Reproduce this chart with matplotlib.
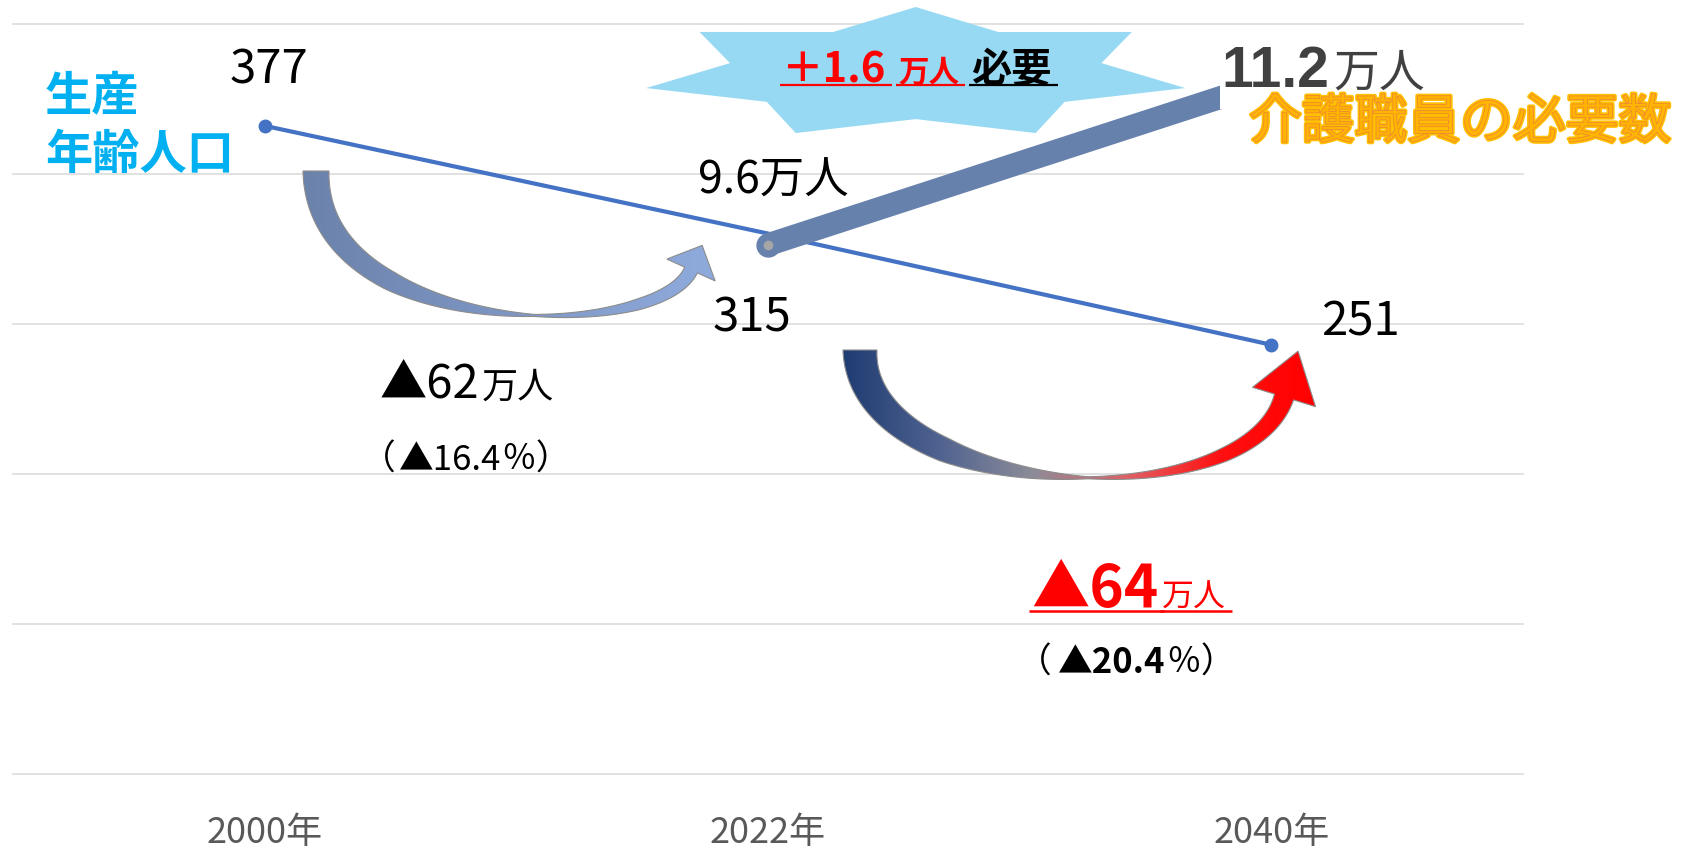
import numpy as np
import matplotlib
matplotlib.use("Agg")
import matplotlib.pyplot as plt
from matplotlib.patches import Polygon, Rectangle
from matplotlib import patheffects as pe
from matplotlib.colors import LinearSegmentedColormap

plt.rcParams['font.family'] = ['Noto Sans CJK JP', 'DejaVu Sans']

# data
years = ["2000年", "2022年", "2040年"]
working_pop = [377, 315, 251]          # 生産年齢人口（万人）
pop_labels = ["377", "315", "251"]
care_need = [np.nan, 9.6, 11.2]        # 介護職員の必要数（万人）

W, H = 1688, 853
fig = plt.figure(figsize=(W / 100, H / 100), dpi=100)
ax = fig.add_axes([13 / W, 78 / H, 1510 / W, 750 / H])
x = np.arange(len(years))

# population line (middle marker sits under the thick band in the original)
ax.plot(x, working_pop, color='#4472C4', lw=3, marker='o', ms=9, markevery=[0, 2], zorder=3)
ax.set_xlim(-0.5, 2.5)
ax.set_ylim(4, 435.6)
ax.set_yticks(np.linspace(4, 435.6, 6))
ax.yaxis.grid(True, color='#D9D9D9', lw=1.1)
for gl in ax.get_ygridlines():
    gl.set_clip_on(False)
ax.set_yticklabels([])
ax.tick_params(axis='y', length=0)
ax.set_xticks(x, years)
ax.tick_params(axis='x', length=0, pad=29, labelsize=26, labelcolor='#595959')
for s in ax.spines.values():
    s.set_visible(False)

offsets = [(2.9, 31.5), (-11.5, -70), (64, 7.7)]
for i, (v, lbl) in enumerate(zip(working_pop, pop_labels)):
    ax.annotate(lbl, (i, v), xytext=offsets[i], textcoords='offset points',
                ha='center', va='baseline', fontsize=34, color='black')

# care workers (thick band on second scale)
ax2 = ax.twinx()
ax2.set_ylim(4.426, 11.757)
ax2.axis('off')
ax2.plot(x, care_need, color='#6781AD', lw=16.5, solid_capstyle='butt', zorder=2)
ax2.plot(x[1], care_need[1], 'o', color='#6781AD', ms=16.5, zorder=2)
ax2.plot(x[1], care_need[1], 'o', color='#A6A6A6', ms=6, zorder=3)
ax2.annotate("9.6万人", (x[1], care_need[1]), xytext=(3.8, 37.7), textcoords='offset points',
             ha='center', va='baseline', fontsize=32, color='black')

# overlay in pixel coordinates for the decorations
deco = fig.add_axes([0, 0, 1, 1])
deco.set_zorder(10)
deco.patch.set_visible(False)
deco.axis('off')
renderer = fig.canvas.get_renderer()


def runs(xc, y, parts, ha='center', underline=None):
    texts = []
    for s, kw, gap in parts:
        t = deco.text(0, y, s, ha='left', va='baseline', **kw)
        texts.append((t, gap))
    widths = [t.get_window_extent(renderer).width + g for t, g in texts]
    x0 = xc - sum(widths) / 2 if ha == 'center' else xc
    spans = []
    for (t, g), w in zip(texts, widths):
        t.set_x(x0)
        spans.append((x0, x0 + w - g))
        x0 += w
    if underline:
        for (a, b), (yy, col, lw) in zip(spans, underline):
            if col:
                deco.plot([a - 2, b + 6], [yy, yy], color=col, lw=lw, solid_capstyle='butt')
    return spans


def star(cx, cy, rx, ry, irx, iry, n=7):
    k = np.arange(2 * n)
    a = k * np.pi / n
    rxs = np.where(k % 2 == 0, rx, irx)
    rys = np.where(k % 2 == 0, ry, iry)
    return np.column_stack([cx + rxs * np.sin(a), cy - rys * np.cos(a)])


def curved_arrow(p0, p1, p2, p3, wt, ww, head_w, head_l, colors):
    p0, p1, p2, p3 = [np.asarray(p, float) for p in (p0, p1, p2, p3)]
    t = np.linspace(0, 1, 300)[:, None]
    c = (1 - t) ** 3 * p0 + 3 * (1 - t) ** 2 * t * p1 + 3 * (1 - t) * t ** 2 * p2 + t ** 3 * p3
    d = 3 * (1 - t) ** 2 * (p1 - p0) + 6 * (1 - t) * t * (p2 - p1) + 3 * t ** 2 * (p3 - p2)
    tan = d / np.linalg.norm(d, axis=1)[:, None]
    nrm = np.column_stack([-tan[:, 1], tan[:, 0]])
    w = np.interp(t.ravel(), wt, ww)[:, None]
    left = c + nrm * w / 2
    right = c - nrm * w / 2
    tip = c[-1] + tan[-1] * head_l
    b1 = c[-1] + nrm[-1] * head_w / 2
    b2 = c[-1] - nrm[-1] * head_w / 2
    poly = np.vstack([left, b1, tip, b2, right[::-1]])
    patch = Polygon(poly, closed=True, facecolor='none', edgecolor='#8C8C8C', lw=0.8, zorder=3)
    deco.add_patch(patch)
    cmap = LinearSegmentedColormap.from_list('g', colors)
    xmn, ymn = poly.min(axis=0)
    xmx, ymx = poly.max(axis=0)
    im = deco.imshow(np.linspace(0, 1, 256)[None, :], cmap=cmap, aspect='auto',
                     extent=[xmn, xmx, ymx, ymn], interpolation='bilinear', zorder=2)
    im.set_clip_path(patch)


# burst behind the "+1.6万人 必要" note
deco.add_patch(Polygon(star(915.7, 74.3, 276.5, 66.3, 190.5, 45.8), closed=True,
                       facecolor='#97D9F3', edgecolor='none', zorder=1))

curved_arrow((316, 172), (316, 342), (658, 344), (691, 271),
             [0, 0.3, 0.58, 0.8, 1], [26, 19, 2, 11, 14], 53, 27,
             ['#6B82AB', '#7E96C4', '#8FABDD'])
curved_arrow((860, 351), (860, 501), (1246, 522), (1284, 398),
             [0, 0.3, 0.55, 0.8, 1], [34, 24, 2, 14, 20], 66, 48,
             ['#1F3C72', '#4F6290', '#8C8C99', '#E06065', '#FF1010', '#FF0000'])

# white boxes hiding the end of the band (text boxes in the original)
deco.add_patch(Rectangle((1220, 40), W - 1220, 70, facecolor='white', edgecolor='none', zorder=4))
deco.add_patch(Rectangle((1232, 110), W - 1232, 42, facecolor='white', edgecolor='none', zorder=4))

# series titles
blue_kw = dict(fontsize=34, fontweight='bold', color='#00B0F0', zorder=5)
deco.text(45, 111, "生産", ha='left', va='baseline', **blue_kw)
deco.text(45, 169, "年齢人口", ha='left', va='baseline', **blue_kw)

deco.text(1249, 139, "介護職員の必要数", ha='left', va='baseline', fontsize=38,
          color='#FFB400', zorder=5,
          path_effects=[pe.Stroke(linewidth=3, foreground='#FFC000'), pe.Normal(),
                        pe.Stroke(linewidth=0.6, foreground='#EE8A30')])

runs(1221, 86.7, [("11.2", dict(fontsize=41, fontweight='bold', color='#404040', zorder=5,
                                family=['Liberation Sans', 'DejaVu Sans']), 5),
                  ("万人", dict(fontsize=33, color='#404040', zorder=5), 0)], ha='left')

runs(917, 82, [("＋1.6", dict(fontsize=30, fontweight='bold', color='#FF0000', zorder=5), 12),
               ("万人", dict(fontsize=22, fontweight='bold', color='#FF0000', zorder=5), 12),
               ("必要", dict(fontsize=29, fontweight='bold', color='black', zorder=5), 0)],
     underline=[(86, '#FF0000', 1.6), (86, '#FF0000', 1.6), (86, 'black', 1.6)])

runs(467, 398, [("▲62", dict(fontsize=34, color='black', zorder=5), 3),
                ("万人", dict(fontsize=26, color='black', zorder=5), 0)])
runs(466, 470, [("（", dict(fontsize=25, color='black', zorder=5), 3),
                ("▲16.4", dict(fontsize=25, color='black', zorder=5), 0),
                ("％）", dict(fontsize=25, color='black', zorder=5), 0)])

runs(1128.5, 606.7, [("▲64", dict(fontsize=42, fontweight='bold', color='#FF0000', zorder=5), 4),
                     ("万人", dict(fontsize=23, color='#FF0000', zorder=5), 0)],
     underline=[(612, '#FF0000', 1.8), (612, '#FF0000', 1.8)])
runs(1126.5, 673, [("（", dict(fontsize=25, color='black', zorder=5), 6),
                   ("▲20.4", dict(fontsize=25, fontweight='bold', color='black', zorder=5), 1),
                   ("％）", dict(fontsize=25, color='black', zorder=5), 0)])

deco.set_xlim(0, W)
deco.set_ylim(H, 0)

fig.savefig("out.png", dpi=100)
